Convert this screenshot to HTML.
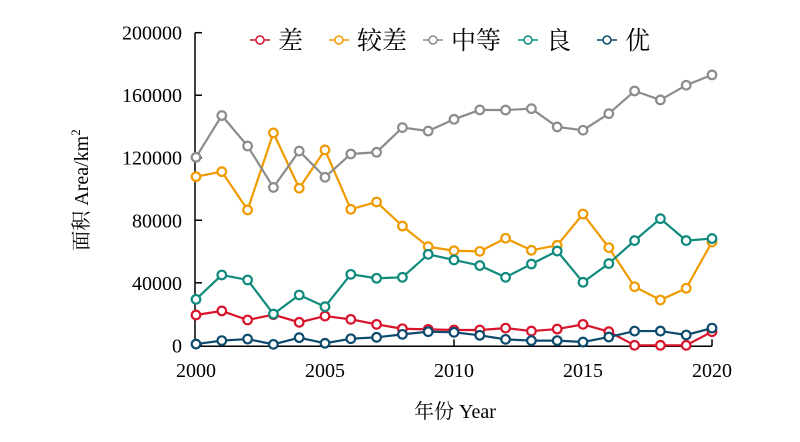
<!DOCTYPE html>
<html><head><meta charset="utf-8"><style>
html,body{margin:0;padding:0;background:#fff;}
svg{display:block;font-family:"Liberation Serif","Noto Serif CJK SC","Noto Sans CJK SC",serif;}
</style></head><body>
<svg id="chart" width="800" height="442" viewBox="0 0 800 442"></svg>
<script>
const years=[2000,2001,2002,2003,2004,2005,2006,2007,2008,2009,2010,2011,2012,2013,2014,2015,2016,2017,2018,2019,2020];
const seriesNames=["差","较差","中等","良","优"];
const colors=["#d7142b","#f09a00","#8c8c8c","#0f8a7c","#0c4a6e"];
const poor=[19400,22000,16200,19600,14700,18700,16600,13400,10600,10200,9800,9800,11000,9100,10400,13400,8700,0,0,0,8700];
const fair=[107900,111100,86600,135900,100500,125000,87000,91700,76300,63100,60500,60100,68500,60800,64000,84000,62500,37500,29000,36500,66100];
const medium=[120300,147000,127500,101000,124300,107500,122400,123500,139300,137100,144600,150600,150500,151400,139700,137600,148200,162700,157000,166400,173000];
const good=[29400,45000,41800,20000,32200,24700,45400,42900,43500,58200,54600,51000,43500,52000,60300,40300,52300,67000,81000,67000,68300];
const excellent=[800,3000,4000,600,4900,1300,4200,5100,7000,8700,8300,6400,3800,3000,3000,2100,5300,9100,9100,6600,11000];
const yTicks=[0,40000,80000,120000,160000,200000];
const xTicks=[2000,2005,2010,2015,2020];
const allSeries=[poor,fair,medium,good,excellent];

const NS="http://www.w3.org/2000/svg";
const svg=document.getElementById("chart");
const X0=196,X1=712,Y0=345.3,Y1=32.7;
function xs(v){return X0+(v-2000)/20*(X1-X0);}
function ys(v){return Y0-v/200000*(Y0-Y1);}
function mk(tag,attrs,parent){const e=document.createElementNS(NS,tag);for(const k in attrs)e.setAttribute(k,attrs[k]);(parent||svg).appendChild(e);return e;}

// axes
const axes=mk("g",{});


const yAxis=mk("line",{x1:X0-1,y1:Y1,x2:X0-1,y2:Y0+1,stroke:"#000","stroke-width":1.5},axes);


const xAxis=mk("line",{x1:X0-1,y1:Y0+1,x2:X1,y2:Y0+1,stroke:"#000","stroke-width":1.5},axes);


yTicks.forEach(t=>{
  const y=ys(t);
  mk("line",{x1:X0-1,y1:y,x2:X0+6,y2:y,stroke:"#000","stroke-width":1.5},axes);
  const lb=mk("text",{x:182,y:y+7,"text-anchor":"end","font-size":20,fill:"#000"},axes);
  lb.textContent=t;
  
  
});
xTicks.forEach(t=>{
  const x=xs(t);
  mk("line",{x1:x,y1:Y0+1,x2:x,y2:Y0-6,stroke:"#000","stroke-width":1.5},axes);
  const lb=mk("text",{x:x,y:377,"text-anchor":"middle","font-size":20,fill:"#000"},axes);
  lb.textContent=t;
  
  
});
const xt=mk("text",{x:455,y:418,"text-anchor":"middle","font-size":20,fill:"#000"});
xt.textContent="年份 Year";


const yt=mk("text",{x:0,y:0,"text-anchor":"middle","font-size":20,fill:"#000",transform:"translate(88,190) rotate(-90)"});
yt.innerHTML='面积 Area/km<tspan font-size="13" dy="-8">2</tspan>';



// series
allSeries.forEach((data,si)=>{
  const g=mk("g",{});
  
  
  const pts=data.map((v,i)=>xs(years[i])+","+ys(v)).join(" ");
  const pl=mk("polyline",{points:pts,fill:"none",stroke:colors[si],"stroke-width":2.2},g);
  
  
  data.forEach((v,i)=>{
    const c=mk("circle",{cx:xs(years[i]),cy:ys(v),r:4.3,fill:"#fff",stroke:colors[si],"stroke-width":2.2},g);
    
    
  });
});

// legend
const legX=[250,329,423,518,597];
const lg=mk("g",{});


seriesNames.forEach((n,i)=>{
  const e=mk("g",{},lg);
  
  
  mk("line",{x1:legX[i],y1:40,x2:legX[i]+20,y2:40,stroke:colors[i],"stroke-width":1.5},e);
  mk("circle",{cx:legX[i]+10,cy:40,r:4,fill:"#fff",stroke:colors[i],"stroke-width":1.5},e);
  const t=mk("text",{x:legX[i]+28,y:49,"font-size":25,fill:"#000"},e);
  t.textContent=n;
});
</script>
</body></html>
